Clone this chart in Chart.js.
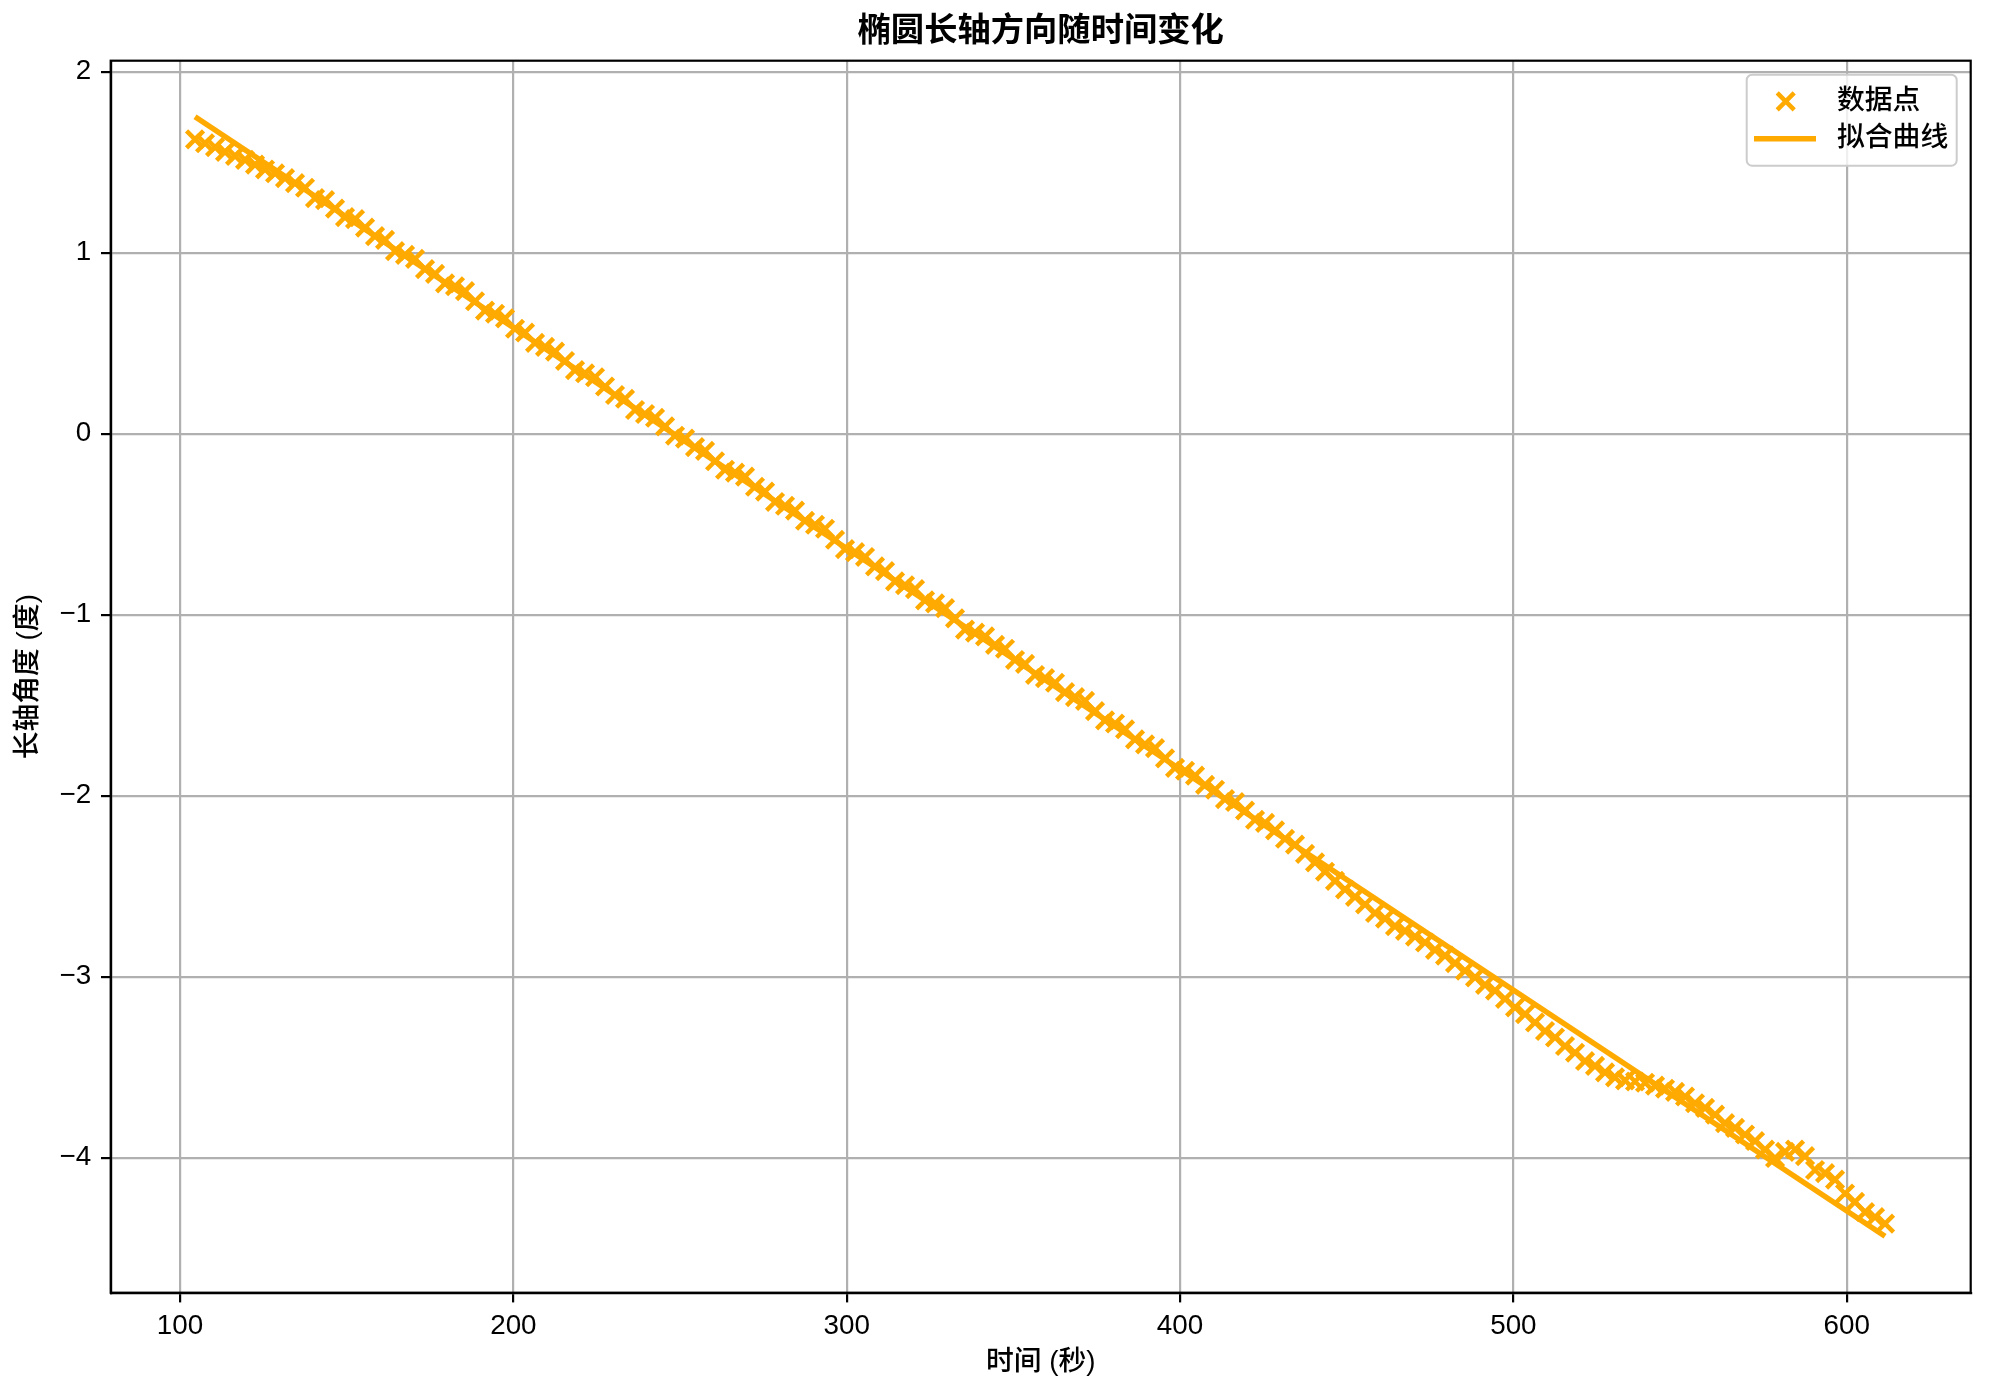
<!DOCTYPE html>
<html>
<head>
<meta charset="utf-8">
<script src="https://cdn.jsdelivr.net/npm/chart.js@4.4.1/dist/chart.umd.min.js"></script>
<style>
  html, body { margin: 0; padding: 0; background: #fff; }
  #wrap { width: 1991px; height: 1398px; }
</style>
</head>
<body>
<div id="wrap"><canvas id="grafico" width="1991" height="1398"></canvas></div>
<script>
// tempo (s) de cada amostra
const tempo = [
  104.5,107.5,110.5,113.5,116.5,119.5,122.5,125.5,128.5,131.5,
  134.5,137.5,140.5,143.5,146.5,149.5,152.5,155.5,158.5,161.5,
  164.5,167.5,170.5,173.5,176.5,179.5,182.5,185.5,188.5,191.5,
  194.5,197.5,200.5,203.5,206.5,209.5,212.5,215.5,218.5,221.5,
  224.5,227.5,230.5,233.5,236.5,239.5,242.5,245.5,248.5,251.5,
  254.5,257.5,260.5,263.5,266.5,269.5,272.5,275.5,278.5,281.5,
  284.5,287.5,290.5,293.5,296.5,299.5,302.5,305.5,308.5,311.5,
  314.5,317.5,320.5,323.5,326.5,329.5,332.5,335.5,338.5,341.5,
  344.5,347.5,350.5,353.5,356.5,359.5,362.5,365.5,368.5,371.5,
  374.5,377.5,380.5,383.5,386.5,389.5,392.5,395.5,398.5,401.5,
  404.5,407.5,410.5,413.5,416.5,419.5,422.5,425.5,428.5,431.5,
  434.5,437.5,440.5,443.5,446.5,449.5,452.5,455.5,458.5,461.5,
  464.5,467.5,470.5,473.5,476.5,479.5,482.5,485.5,488.5,491.5,
  494.5,497.5,500.5,503.5,506.5,509.5,512.5,515.5,518.5,521.5,
  524.5,527.5,530.5,533.5,536.5,539.5,542.5,545.5,548.5,551.5,
  554.5,557.5,560.5,563.5,566.5,569.5,572.5,575.5,578.5,581.5,
  584.5,587.5,590.5,593.5,596.5,599.5,602.5,605.5,608.5,611.5
];

// angulo do eixo maior (graus)
const angulo = [
  1.626,1.605,1.583,1.557,1.535,1.513,1.487,1.460,1.439,1.412,
  1.385,1.359,1.302,1.291,1.244,1.197,1.186,1.139,1.092,1.071,
  1.009,0.988,0.966,0.909,0.883,0.831,0.815,0.788,0.732,0.680,
  0.663,0.637,0.580,0.559,0.502,0.480,0.454,0.402,0.351,0.334,
  0.312,0.261,0.214,0.193,0.131,0.109,0.088,0.041,-0.011,-0.027,
  -0.074,-0.095,-0.152,-0.199,-0.215,-0.237,-0.293,-0.320,-0.377,-0.398,
  -0.425,-0.481,-0.503,-0.525,-0.586,-0.638,-0.654,-0.681,-0.733,-0.759,
  -0.816,-0.837,-0.859,-0.921,-0.937,-0.964,-1.020,-1.082,-1.099,-1.120,
  -1.167,-1.188,-1.250,-1.272,-1.333,-1.350,-1.376,-1.428,-1.455,-1.476,
  -1.533,-1.584,-1.601,-1.633,-1.689,-1.716,-1.737,-1.794,-1.846,-1.862,
  -1.889,-1.940,-1.967,-2.019,-2.035,-2.082,-2.133,-2.150,-2.192,-2.238,
  -2.270,-2.321,-2.368,-2.420,-2.471,-2.518,-2.559,-2.601,-2.648,-2.679,
  -2.721,-2.747,-2.779,-2.811,-2.852,-2.884,-2.925,-2.967,-3.004,-3.045,
  -3.077,-3.123,-3.170,-3.207,-3.253,-3.300,-3.336,-3.383,-3.420,-3.466,
  -3.493,-3.529,-3.556,-3.573,-3.579,-3.586,-3.602,-3.619,-3.636,-3.662,
  -3.699,-3.725,-3.762,-3.809,-3.835,-3.872,-3.908,-3.955,-4.002,-3.968,
  -3.955,-3.991,-4.068,-4.085,-4.121,-4.198,-4.244,-4.301,-4.328,-4.364
];

// reta ajustada (extremos)
const ajusteX = [104.5, 611.5];
const ajusteY = [1.751, -4.434];

// marcas dos eixos
const ticksX = [100, 200, 300, 400, 500, 600];
const ticksY = [-4, -3, -2, -1, 0, 1, 2];

const titulo = '椭圆长轴方向随时间变化';
const laranja = '#ffaa00';
const fonte = "'Liberation Sans', 'Noto Sans CJK SC', sans-serif";

Chart.defaults.font.family = fonte;
Chart.defaults.color = '#000';

// titulo centrado sobre a area do grafico
const tituloPlugin = {
  id: 'titulo',
  afterDraw(chart) {
    const {ctx, chartArea: a} = chart;
    ctx.save();
    ctx.fillStyle = '#000';
    ctx.font = 'bold 33.3px ' + fonte;
    ctx.textAlign = 'center';
    ctx.textBaseline = 'middle';
    ctx.fillText(titulo, (a.left + a.right) / 2, a.top - 29);
    ctx.restore();
  }
};

// moldura em volta da area do grafico
const molduraPlugin = {
  id: 'moldura',
  afterDatasetsDraw(chart) {
    const {ctx, chartArea: a} = chart;
    ctx.save();
    ctx.strokeStyle = '#000';
    ctx.lineWidth = 2.2;
    ctx.strokeRect(a.left, a.top, a.right - a.left, a.bottom - a.top);
    ctx.restore();
  }
};

// legenda dentro do grafico, canto superior direito
const legendaPlugin = {
  id: 'legenda',
  afterDraw(chart) {
    const {ctx, chartArea: a} = chart;
    const w = 210, h = 91;
    const x = a.right - 14 - w, y = a.top + 14;
    ctx.save();
    ctx.beginPath();
    ctx.roundRect(x, y, w, h, 5.5);
    ctx.fillStyle = 'rgba(255,255,255,0.8)';
    ctx.fill();
    ctx.strokeStyle = '#cccccc';
    ctx.lineWidth = 2;
    ctx.stroke();

    // marcador x
    const mx = x + 39, my = y + 26.7, s = 8.5;
    ctx.strokeStyle = laranja;
    ctx.lineWidth = 4.5;
    ctx.beginPath();
    ctx.moveTo(mx - s, my - s); ctx.lineTo(mx + s, my + s);
    ctx.moveTo(mx + s, my - s); ctx.lineTo(mx - s, my + s);
    ctx.stroke();

    // linha
    ctx.lineWidth = 5.5;
    ctx.beginPath();
    ctx.moveTo(x + 7.3, y + 64); ctx.lineTo(x + 69.3, y + 64);
    ctx.stroke();

    ctx.fillStyle = '#000';
    ctx.font = '500 27.8px ' + fonte;
    ctx.textBaseline = 'middle';
    ctx.textAlign = 'left';
    ctx.fillText(chart.data.datasets[0].label, x + 90.3, my);
    ctx.fillText(chart.data.datasets[1].label, x + 90.3, y + 64);
    ctx.restore();
  }
};

const menos = v => String(v).replace('-', '\u2212');

new Chart(document.getElementById('grafico'), {
  type: 'scatter',
  data: {
    datasets: [
      {
        label: '数据点',
        data: tempo.map((t, i) => ({x: t, y: angulo[i]})),
        pointStyle: 'crossRot',
        pointRadius: 12,
        pointHoverRadius: 12,
        borderColor: laranja,
        backgroundColor: laranja,
        pointBorderWidth: 4.5,
        showLine: false
      },
      {
        label: '拟合曲线',
        data: ajusteX.map((t, i) => ({x: t, y: ajusteY[i]})),
        showLine: true,
        borderColor: laranja,
        borderWidth: 5.5,
        pointRadius: 0,
        fill: false
      }
    ]
  },
  options: {
    responsive: false,
    animation: false,
    devicePixelRatio: 1,
    layout: { padding: { left: 0, right: 20.3, top: 60.7, bottom: 0 } },
    plugins: {
      legend: { display: false },
      tooltip: { enabled: false },
      title: { display: false }
    },
    scales: {
      x: {
        type: 'linear',
        min: 79.2,
        max: 637.2,
        afterBuildTicks: s => { s.ticks = ticksX.map(v => ({value: v})); },
        afterFit: s => { s.height = 105.3; },
        ticks: {
          font: { size: 27.8, family: fonte },
          color: '#000',
          padding: 7.5,
          maxRotation: 0,
          autoSkip: false,
          callback: menos
        },
        grid: { color: '#b0b0b0', lineWidth: 2.2, tickColor: '#000', tickWidth: 2.2, tickLength: 9.7 },
        border: { display: true, color: '#000', width: 2.2 },
        title: {
          display: true,
          text: '时间 (秒)',
          color: '#000',
          font: { size: 27.8, weight: '500', family: fonte, lineHeight: 1.2 },
          padding: { top: 0, bottom: 19.3 }
        }
      },
      y: {
        type: 'linear',
        min: -4.746,
        max: 2.061,
        afterBuildTicks: s => { s.ticks = ticksY.map(v => ({value: v})); },
        afterFit: s => { s.width = 110.7; },
        ticks: {
          font: { size: 27.8, family: fonte },
          color: '#000',
          padding: 9.7,
          autoSkip: false,
          callback: menos
        },
        grid: { color: '#b0b0b0', lineWidth: 2.2, tickColor: '#000', tickWidth: 2.2, tickLength: 9.7 },
        border: { display: true, color: '#000', width: 2.2 },
        title: {
          display: true,
          text: '长轴角度 (度)',
          color: '#000',
          font: { size: 27.8, weight: '500', family: fonte, lineHeight: 1.2 },
          padding: { top: 12, bottom: 0 }
        }
      }
    }
  },
  plugins: [molduraPlugin, tituloPlugin, legendaPlugin]
});
</script>
</body>
</html>
